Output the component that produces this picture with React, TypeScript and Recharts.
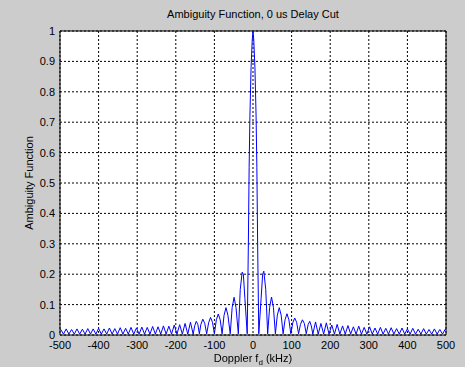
import { LineChart, Line, XAxis, YAxis, CartesianGrid, ReferenceArea } from "recharts";

// Doppler (kHz) vs. normalized ambiguity
const leftFarLobes: [number, number][] = [
  [-500, 0.017], [-498, 0.018], [-491, 0.003], [-484, 0.02], [-477, 0.003],
  [-470, 0.018], [-463, 0.003], [-456, 0.02], [-449, 0.003], [-442, 0.019],
  [-435, 0.003], [-428, 0.021], [-421, 0.003], [-414, 0.02], [-407, 0.003],
  [-400, 0.022], [-393, 0.003], [-386, 0.02], [-379, 0.003], [-372, 0.023],
  [-365, 0.003], [-358, 0.021], [-351, 0.003], [-344, 0.024], [-337, 0.003],
  [-330, 0.022], [-323, 0.003], [-316, 0.025], [-309, 0.003], [-302, 0.023],
  [-295, 0.003], [-288, 0.026], [-281, 0.003], [-274, 0.025], [-267, 0.003],
  [-260, 0.028], [-253, 0.003], [-246, 0.027], [-239, 0.003], [-232, 0.03],
  [-225, 0.003], [-218, 0.029], [-211, 0.003], [-204, 0.033], [-197, 0.003],
  [-190, 0.034], [-183, 0.003], [-176, 0.038], [-169, 0.003], [-162, 0.042],
  [-155, 0.003],
];

const leftNearLobes: [number, number][] = [
  [-151, 0.03], [-147, 0.045], [-143, 0.035], [-139, 0.004],
  [-135, 0.035], [-130, 0.052], [-125, 0.038], [-120, 0.004],
  [-115, 0.04], [-110, 0.058], [-105, 0.042], [-100, 0.004],
  [-95, 0.05], [-90, 0.069], [-85, 0.05], [-80, 0.004],
  [-75, 0.065], [-70, 0.09], [-65, 0.065], [-59, 0.004],
  [-54, 0.09], [-49, 0.124], [-44, 0.09], [-38, 0.004],
  [-33, 0.15], [-28, 0.207], [-25, 0.2], [-21, 0.12], [-15, 0.004],
];

const mainLobe: [number, number][] = [
  [-12, 0.3], [-10, 0.55], [-8, 0.72], [-5, 0.88], [-2, 0.97], [0, 1],
  [2, 0.97], [5, 0.88], [8, 0.72], [10, 0.55], [12, 0.3],
];

const rightNearLobes: [number, number][] = [
  [15, 0.004], [21, 0.12], [25, 0.2], [28, 0.21], [33, 0.15], [38, 0.004],
  [43, 0.09], [48, 0.125], [53, 0.09], [58, 0.004],
  [63, 0.065], [68, 0.09], [73, 0.065], [78, 0.004],
  [83, 0.05], [88, 0.07], [93, 0.05], [98, 0.004],
  [103, 0.04], [108, 0.056], [113, 0.042], [118, 0.004],
  [123, 0.035], [128, 0.05], [133, 0.038], [138, 0.004],
  [143, 0.035], [147, 0.045], [151, 0.03], [155, 0.003],
];

const rightFarLobes: [number, number][] = [
  [162, 0.043], [169, 0.003], [176, 0.038], [183, 0.003], [190, 0.04],
  [197, 0.003], [204, 0.033], [211, 0.003], [218, 0.035], [225, 0.003],
  [232, 0.03], [239, 0.003], [246, 0.031], [253, 0.003], [260, 0.027],
  [267, 0.003], [274, 0.029], [281, 0.003], [288, 0.025], [295, 0.003],
  [302, 0.027], [309, 0.003], [316, 0.023], [323, 0.003], [330, 0.025],
  [337, 0.003], [344, 0.022], [351, 0.003], [358, 0.024], [365, 0.003],
  [372, 0.021], [379, 0.003], [386, 0.023], [393, 0.003], [400, 0.02],
  [407, 0.003], [414, 0.022], [421, 0.003], [428, 0.019], [435, 0.003],
  [442, 0.021], [449, 0.003], [456, 0.018], [463, 0.003], [470, 0.02],
  [477, 0.003], [484, 0.018], [491, 0.003], [498, 0.019], [500, 0.018],
];

const xTicks = [-500, -400, -300, -200, -100, 0, 100, 200, 300, 400, 500];
const yTicks = [0, 0.1, 0.2, 0.3, 0.4, 0.5, 0.6, 0.7, 0.8, 0.9, 1];

const data = [
  ...leftFarLobes,
  ...leftNearLobes,
  ...mainLobe,
  ...rightNearLobes,
  ...rightFarLobes,
].map(([f, v]) => ({ f, v }));

const font = "'Liberation Sans', Arial, sans-serif";

export default function App() {
  return (
    <div
      style={{
        position: "fixed",
        left: 0,
        top: 0,
        width: 465,
        height: 367,
        background: "#cccccc",
        fontFamily: font,
      }}
    >
      <LineChart
        width={465}
        height={367}
        data={data}
        margin={{ top: 31, right: 19, left: 0, bottom: 0 }}
      >
        <CartesianGrid fill="#ffffff" stroke="#000000" strokeDasharray="2 2" />
        <XAxis
          dataKey="f"
          type="number"
          domain={[-500, 500]}
          ticks={xTicks}
          height={32}
          axisLine={false}
          tickLine={false}
          tickSize={0}
          tickMargin={6}
          interval={0}
          tick={{ fill: "#000", fontSize: 11, fontFamily: font }}
        />
        <YAxis
          type="number"
          domain={[0, 1]}
          ticks={yTicks}
          width={60}
          axisLine={false}
          tickLine={false}
          tickSize={0}
          tickMargin={5}
          interval={0}
          tick={{ fill: "#000", fontSize: 11, fontFamily: font }}
        />
        <Line
          type="linear"
          dataKey="v"
          stroke="#0000ff"
          strokeWidth={1}
          dot={false}
          activeDot={false}
          isAnimationActive={false}
        />
        <ReferenceArea
          x1={-500}
          x2={500}
          y1={0}
          y2={1}
          fill="none"
          stroke="#000000"
          strokeWidth={1}
        />
      </LineChart>
      <div
        style={{
          position: "absolute",
          left: 60,
          width: 386,
          top: 8,
          textAlign: "center",
          fontSize: 11,
          color: "#000",
        }}
      >
        Ambiguity Function, 0 us Delay Cut
      </div>
      <div
        style={{
          position: "absolute",
          left: 60,
          width: 386,
          top: 352,
          textAlign: "center",
          fontSize: 11,
          color: "#000",
        }}
      >
        Doppler f<sub style={{ fontSize: 8 }}>d</sub> (kHz)
      </div>
      <div
        style={{
          position: "absolute",
          left: 29,
          top: 183,
          transform: "translate(-50%, -50%) rotate(-90deg)",
          whiteSpace: "nowrap",
          fontSize: 11,
          color: "#000",
        }}
      >
        Ambiguity Function
      </div>
    </div>
  );
}
